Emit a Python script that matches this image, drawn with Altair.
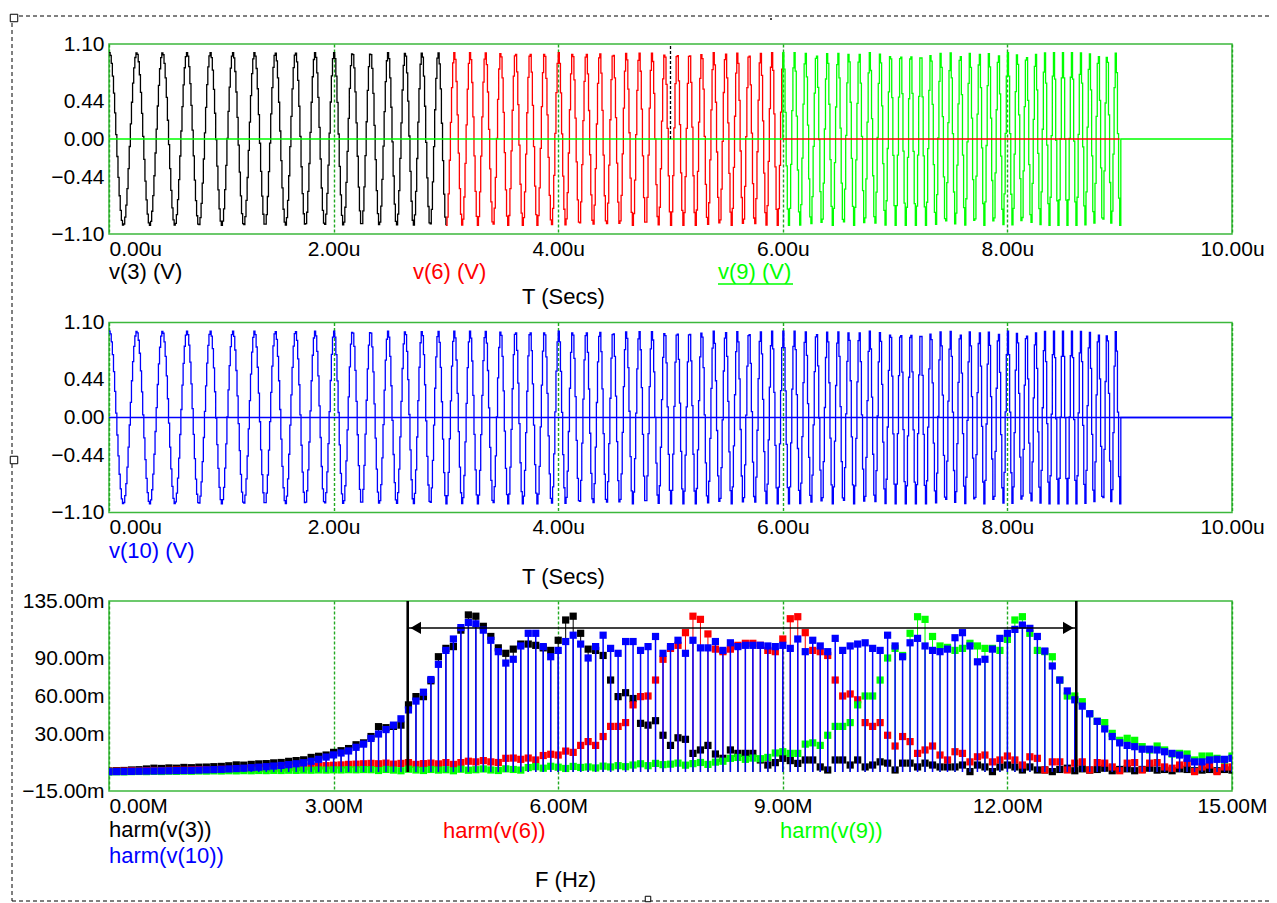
import numpy as np
import pandas as pd
import altair as alt

# ---------------- style ----------------
FONT = "Liberation Sans"
FS = 21          # tick labels
FS_LBL = 22      # trace names / axis names
FRAME_GREEN = "#3cb83c"
GRID_GREEN = "#22aa22"
C_BLACK = "#000000"
C_RED = "#ff0000"
C_LIME = "#00ff00"
C_BLUE = "#0000ff"
PW, PH = 1123, 190

# ---------------- axis ticks ----------------
T_TICKS = [0, 2, 4, 6, 8, 10]
V_TICKS = [1.10, 0.44, 0.00, -0.44, -1.10]
F_TICKS = [0, 3, 6, 9, 12, 15]
M_TICKS = [135, 90, 60, 30, -15]

# ---------------- transient waveforms (chirp) ----------------
T_MAX_US = 10.0
SAMPLE_STEP_US = 0.01
CHIRP_F_START_MHZ = 4.0
CHIRP_F_END_MHZ = 13.0
CHIRP_END_US = 9.0
AMPLITUDE = 1.0
SEG_V3 = (0.0, 3.0)
SEG_V6 = (3.0, 6.0)
SEG_V9 = (6.0, 9.0)
MARKER_T_US = [5.0]

# ---------------- harmonic analysis (0.1 MHz bins, values in mV) ----------------
FREQ_MHZ = [round(0.1 * i, 1) for i in range(151)]

HARM_V10 = [
    0.2, 0.3, 0.4, 0.5, 0.6, 0.7, 0.8, 0.9, 1.0, 1.1,
    1.2, 1.3, 1.5, 1.7, 1.9, 2.1, 2.4, 2.7, 3.0, 3.4,
    3.8, 4.2, 4.7, 5.2, 5.8, 6.5, 7.3, 8.5, 10.0, 11.8,
    13.5, 15.0, 16.6, 19.5, 22.0, 26.5,
    30, 33.5, 37, 42, 49, 56, 63, 73, 85,
    96, 105, 114, 118, 117, 112, 104, 95, 86, 89, 99.5, 109.5, 109.5, 99, 91,
    96, 103, 108, 101, 90, 99, 108, 97.6, 93.7, 103, 103, 96, 99, 107, 93.7,
    99, 104, 93.7, 104, 98, 98, 103, 96, 102, 99, 100, 100, 100, 99.5, 99, 100, 97.6, 105,
    95, 104, 99.5, 95, 105.5, 96, 99.5, 101, 102, 97.6, 96, 108, 99.5, 91, 102, 105.5,
    99.5, 96, 95, 97, 106, 110, 99.5, 87, 89, 97, 105.5, 109.5, 112.6, 116, 113.4, 107,
    95.5, 83.7, 72.6, 64, 57, 52, 46, 40, 34, 28, 23, 21, 20, 18, 18, 17.4, 16, 14.7,
    13.4, 10.8, 8, 8, 9.5, 10, 10, 10.8,
]
HARM_V3 = [
    0.8, 1.0, 1.2, 1.6, 1.8, 2.4, 3.0, 2.8, 3.2, 3.0,
    3.6, 3.4, 3.8, 3.9, 4.2, 4.4, 4.9, 5.6, 5.4, 6.0,
    6.4, 6.6, 7.2, 7.5, 8.4, 9.0, 9.6, 11.5, 12.4, 13.4,
    15.5, 16.8, 18.5, 21.5, 23.0, 28.0,
    35.8, 35, 36, 37, 53, 59.5, 59.5, 72, 91,
    97.6, 99, 112, 124, 123, 115, 107, 98, 93.7, 97, 101, 101, 100, 98, 96,
    104, 120, 123, 109.5, 97, 96, 92, 72.6, 59.5, 62.6, 58, 38.4, 37, 40.5, 29,
    21, 27, 25.8, 14.7, 17.4, 21, 14.2, 10.8, 17.4, 14.7, 14.7, 14.7, 9.5, 5.5, 7.4, 10.8, 9, 6.8,
    9.5, 9.5, 4, 1.6, 9.5, 9.5, 5.5, 9.5, 4, 5.5, 8, 7, 1.6, 7, 7, 4, 7, 5.5, 4, 4,
    4, 5.5, 0.3, 5.5, 4, 0.3, 4, 5.5, 4, 1.6, 4, 1.6, 1.6, 0.3,
    2, 3, 1, 2.5, 1.5, 2, 3, 1, 2, 2.5, 1, 2, 3, 1.5, 2, 1, 2.5, 2, 1, 1.5, 2, 1, 2, 1.5,
]
HARM_V6 = [
    0.5, 0.6, 0.7, 0.9, 0.8, 1.0, 1.2, 1.1, 1.3, 1.5,
    1.4, 1.6, 1.8, 1.7, 1.9, 2.1, 2.0, 2.3, 2.5, 2.4,
    2.7, 2.9, 3.1, 3.0, 3.4, 3.7, 3.9, 4.3, 4.6, 5.0,
    5.3, 5.6, 6.0, 6.2, 6.5, 6.8,
    6.5, 7.0, 6.2, 6.8, 7.4, 6.0, 6.6, 7.0, 6.4, 7.4, 6.0, 7.4, 8.5, 8.0, 9.0, 8.0,
    7.5, 10.8, 11, 10, 11, 9.5, 13, 14, 13.4, 16.5, 15.5,
    21, 24, 21, 28, 36, 36, 39, 53, 59.5, 60, 72.6, 89, 97.6, 100, 110, 123, 120.5,
    109, 97, 95, 97, 100, 101.6, 101.6, 100, 96, 95, 105, 121, 122.6,
    110, 96, 95, 92, 72.6, 60, 61.6, 57, 39, 36, 39, 29, 20.5, 28, 24, 14.7, 17.4,
    20.5, 13.4, 9.5, 16, 14.7, 8, 12, 13.4, 8, 9.5, 12.6, 9.5, 5.5, 12, 10.8, 1.6,
    8, 8, 1.6, 7, 8, 1.6, 7.4, 7, 4, 1, 7, 7.4, 1.6, 7, 7.4, 4, 3, 5.5, 7, 0.3, 4,
    5.5, 0.3, 4, 4,
]
HARM_V9 = [
    0.0, 0.2, 0.1, 0.3, 0.4, 0.3, 0.5, 0.4, 0.6, 0.5,
    0.7, 0.6, 0.8, 0.7, 0.9, 0.8, 1.0, 0.9, 1.1, 1.0,
    1.2, 1.1, 1.3, 1.2, 1.4, 1.3, 1.5, 1.4, 1.6, 1.5,
    1.7, 1.6, 1.8, 1.7, 1.9, 1.8,
    1.2, 2.0, 1.5, 1.0, 2.2, 1.6, 1.2, 2.0, 1.5, 1.8, 1.0, 2.2, 1.4, 1.8, 2.4, 1.6,
    1.2, 2.5, 2.0, 1.5,
    3.5, 4.2, 3.0, 4.5, 3.8, 2.8, 4.4, 3.6, 4.0, 3.2, 4.6, 4.0, 5.0, 4.2,
    5.5, 6.5, 5.0, 6.8, 5.8, 6.2, 7.0, 5.4, 6.6, 7.5, 6.0, 7.8, 8.5,
    10.8, 11.5, 10, 11, 10.5, 11.5, 15, 16, 14.7, 14.7,
    22, 23, 21, 29, 36, 36, 39, 53, 60, 60, 72.6, 90, 97.6, 92, 109.5, 122.6, 120.5,
    107, 99.5, 98.4, 96, 97.6, 101.6, 99.5, 97.6, 97.6, 96, 104.7, 120, 122.6, 109.5,
    96, 95, 91, 72.6, 60, 60, 55.5, 46, 40, 39, 30.5, 25, 26.6, 25, 20, 17.4, 20.5,
    17.4, 14.2, 14.7, 14.2, 9.5, 12.6, 12.6, 10.8, 9.5, 12.6,
]
for arr in (HARM_V10, HARM_V3, HARM_V6, HARM_V9):
    assert len(arr) == len(FREQ_MHZ), len(arr)

CURSOR_F_MHZ = [3.99, 12.92]
ARROW_Y_MV = 113.7

# ---------------- build tables ----------------
t = np.round(np.arange(0.0, T_MAX_US + 1e-9, SAMPLE_STEP_US), 4)
rate = (CHIRP_F_END_MHZ - CHIRP_F_START_MHZ) / CHIRP_END_US
wave = AMPLITUDE * np.cos(2 * np.pi * (CHIRP_F_START_MHZ * t + 0.5 * rate * t ** 2))
EPS = 1e-9


def segment(a, b):
    m = (t >= a - EPS) & (t <= b + EPS)
    return pd.DataFrame({"t": t[m], "v": wave[m]})


df_v3 = segment(*SEG_V3)
df_v6_osc = segment(*SEG_V6)
df_v6_zero = pd.DataFrame({"t": [SEG_V6[1], SEG_V9[1]], "v": [0.0, 0.0]})
green_v = np.where((t >= SEG_V9[0] - EPS) & (t <= SEG_V9[1] + EPS), wave, 0.0)
df_v9 = pd.DataFrame({"t": t, "v": green_v})
blue_df = pd.DataFrame({"t": t, "v": np.where(t <= CHIRP_END_US + EPS, wave, 0.0)})

# ---------------- encodings ----------------
first_left = {"condition": {"test": "datum.value == 0", "value": "left"}, "value": "center"}


def x_axis(ticks, suffix):
    return alt.Axis(values=ticks, labelExpr="format(datum.value, '.2f') + '" + suffix + "'",
                    title=None, grid=True, gridColor=GRID_GREEN, gridDash=[3, 2], gridWidth=1.4,
                    ticks=False, domain=False, labelFlush=False, labelOverlap=False,
                    labelAlign=first_left, labelBaseline="top", labelPadding=4)


def y_axis(ticks, expr):
    return alt.Axis(values=ticks, labelExpr=expr, title=None, grid=False, ticks=False,
                    domain=False, labelOverlap=False, labelPadding=5)


XT = alt.X("t:Q", scale=alt.Scale(domain=[0, 10], nice=False, zero=False), axis=x_axis(T_TICKS, "u"))
YV = alt.Y("v:Q", scale=alt.Scale(domain=[-1.1, 1.1], nice=False, zero=False),
           axis=y_axis(V_TICKS, "format(datum.value, '.2f')"))
XF = alt.X("f:Q", scale=alt.Scale(domain=[0, 15], nice=False, zero=False), axis=x_axis(F_TICKS, "M"))
YM = alt.Y("v:Q", scale=alt.Scale(domain=[-15, 135], nice=False, zero=False),
           axis=y_axis(M_TICKS, "format(datum.value, '.2f') + 'm'"))


def label(text, px, py, color, anchor="left", size=FS_LBL):
    return alt.Chart(pd.DataFrame({"s": [text]})).mark_text(
        align=anchor, baseline="middle", font=FONT, fontSize=size, color=color
    ).encode(x=alt.value(px), y=alt.value(py), text="s:N")


one = pd.DataFrame({"k": [0]})


def hline(x1, x2, y, color="black", dash=None, width=1):
    kw = dict(color=color, strokeWidth=width)
    if dash:
        kw["strokeDash"] = dash
    return alt.Chart(one).mark_rule(**kw).encode(x=alt.value(x1), x2=alt.value(x2), y=alt.value(y))


def vline(x, y1, y2, color="black", dash=None, width=1):
    kw = dict(color=color, strokeWidth=width)
    if dash:
        kw["strokeDash"] = dash
    return alt.Chart(one).mark_rule(**kw).encode(x=alt.value(x), y=alt.value(y1), y2=alt.value(y2))


def handle(x, y, size):
    return alt.Chart(one).mark_square(filled=True, fill="white", stroke="black", strokeWidth=1,
                                      size=size, opacity=1).encode(x=alt.value(x), y=alt.value(y))


def trace(df, col):
    return alt.Chart(df).mark_line(color=col, strokeWidth=1.3, interpolate="step-after",
                                   clip=True).encode(x=XT, y=YV)


# ---------------- top panel ----------------
marker_df = pd.DataFrame({"t": MARKER_T_US, "v": [0.0], "v2": [1.1]})
top = alt.layer(
    trace(df_v3, C_BLACK),
    trace(df_v6_osc, C_RED),
    trace(df_v9, C_LIME),
    trace(df_v6_zero, C_RED),
    alt.Chart(marker_df).mark_rule(color="black", strokeDash=[3, 2], strokeWidth=1.3)
    .encode(x=XT, y=YV, y2="v2:Q"),
    label("v(3) (V)", 0, 228, C_BLACK),
    label("v(6) (V)", 304, 228, C_RED),
    label("v(9) (V)", 609, 228, C_LIME),
    hline(609, 684, 240, C_LIME, width=1.3),
    label("T (Secs)", 413, 253, C_BLACK),
    # dashed outer frame of the page
    hline(-97, 1162, -28, dash=[4, 3]),
    vline(-97, -28, 857, dash=[4, 3]),
    hline(-97, 1162, 857, dash=[4, 3]),
    handle(-95, -26, 56),
    handle(-95, 416, 56),
    handle(539, 855, 30),
    alt.Chart(one).mark_square(filled=True, color="black", size=4).encode(x=alt.value(662), y=alt.value(-25)),
).properties(width=PW, height=PH)

# ---------------- middle panel ----------------
mid = alt.layer(
    alt.Chart(pd.DataFrame({"t": [0.0], "t2": [10.0], "v": [0.0]})).mark_rule(color=C_BLUE, strokeWidth=1.3)
    .encode(x=XT, x2="t2:Q", y=YV),
    trace(blue_df, C_BLUE),
    label("v(10) (V)", 0, 228, C_BLUE),
    label("T (Secs)", 413, 254, C_BLACK),
).properties(width=PW, height=PH)

# ---------------- bottom panel ----------------
spec_layers = []
for vals, col, sw in [(HARM_V3, C_BLACK, 1.0), (HARM_V6, C_RED, 1.0), (HARM_V9, C_LIME, 1.0),
                      (HARM_V10, C_BLUE, 1.5)]:
    d = pd.DataFrame({"f": FREQ_MHZ, "v": vals, "base": 0.0})
    spec_layers.append(alt.Chart(d).mark_rule(color=col, strokeWidth=sw, clip=True)
                       .encode(x=XF, y=YM, y2="base:Q"))
    spec_layers.append(alt.Chart(d).mark_square(color=col, size=52, opacity=1, clip=True)
                       .encode(x=XF, y=YM))

cur_df = pd.DataFrame({"f": CURSOR_F_MHZ, "v": [135.0, 135.0], "lo": [0.0, 0.0]})
spec_layers.append(alt.Chart(cur_df).mark_rule(color="black", strokeWidth=2.6).encode(x=XF, y=YM, y2="lo:Q"))
arr_df = pd.DataFrame({"f": [CURSOR_F_MHZ[0]], "f2": [CURSOR_F_MHZ[1]], "v": [ARROW_Y_MV]})
spec_layers.append(alt.Chart(arr_df).mark_rule(color="black", strokeWidth=1.3).encode(x=XF, x2="f2:Q", y=YM))
spec_layers.append(alt.Chart(pd.DataFrame({"f": [CURSOR_F_MHZ[0]], "v": [ARROW_Y_MV]}))
                   .mark_point(shape="triangle-left", filled=True, color="black", opacity=1, size=150, xOffset=8)
                   .encode(x=XF, y=YM))
spec_layers.append(alt.Chart(pd.DataFrame({"f": [CURSOR_F_MHZ[1]], "v": [ARROW_Y_MV]}))
                   .mark_point(shape="triangle-right", filled=True, color="black", opacity=1, size=150, xOffset=-8)
                   .encode(x=XF, y=YM))
spec_layers += [
    label("harm(v(3))", 0, 229, C_BLACK),
    label("harm(v(10))", 0, 255, C_BLUE),
    label("harm(v(6))", 334, 230, C_RED),
    label("harm(v(9))", 671, 230, C_LIME),
    label("F (Hz)", 426, 279, C_BLACK),
]
bot = alt.layer(*spec_layers).properties(width=PW, height=PH)

chart = alt.vconcat(top, mid, bot, spacing=88.5, bounds="flush").properties(
    padding={"left": 7, "top": 11, "right": 0, "bottom": 0},
    background="white",
).configure_view(
    stroke=FRAME_GREEN, strokeWidth=1.5
).configure_axis(
    labelFont=FONT, labelFontSize=FS, labelColor="#000000"
)

chart.save("out.html", embed_options={"renderer": "svg", "actions": False})
